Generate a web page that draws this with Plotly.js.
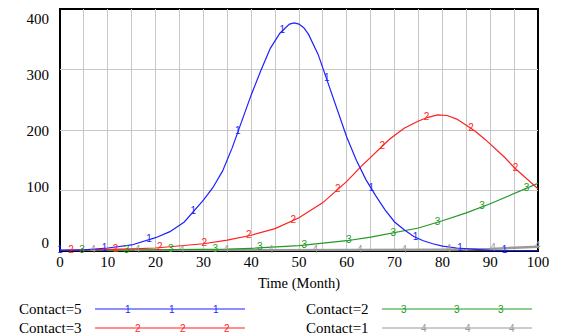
<!DOCTYPE html>
<html><head><meta charset="utf-8">
<script src="https://cdn.plot.ly/plotly-3.0.1.min.js"></script>
<style>html,body{margin:0;padding:0;background:#fff;}#chart{width:561px;height:336px;}</style>
</head><body><div id="chart"></div>
<script>
// ---- data ----
const seriesNames = ["Contact=5", "Contact=3", "Contact=2", "Contact=1"];
const markerLabels = ["1", "2", "3", "4"];
const seriesColors = ["#1f1fff", "#ff1f1f", "#229922", "#999999"];

const t5 = [0,5,10,15,20,23,26,28,30,32,34,36,38,40,42,44,46,47,48,49,50,51,52,54,56,58,60,62,64,66,68,70,72,74,76,78,80,83,86,90,95,100];
const v5 = [1,2,5,10,22,32,48,66,84,105,132,170,215,258,298,335,360,368,375,377,375,369,358,325,280,235,188,150,118,92,68,48,35,24,17,12,8,5,3,1,0.5,0.3];

const t3 = [0,5,10,15,20,25,30,35,40,45,50,55,58,60,63,66,69,72,75,77,79,81,83,85,87,89,91,93,95,97,100];
const v3 = [1,1.5,2.5,3.5,5,8,12,18,26,37,55,80,101,115,140,162,185,203,215,221,225,224,218,208,197,184,170,155,138,124,103];

const t2 = [0,10,20,30,35,40,45,50,55,60,65,70,75,80,85,90,95,100];
const v2 = [0.5,1,1.5,2.5,3,4.5,6.5,9,13,17,23,30,38,50,63,78,95,112];

const t1 = [0,20,40,60,70,80,90,95,100];
const v1 = [0.3,0.5,0.7,1,1.5,2,3.5,5,7];

const xTickVals = [0,10,20,30,40,50,60,70,80,90,100];
const yTickVals = [0,100,200,300,400];
const xTitle = "Time (Month)";

// ---- layout helpers ----
const W = 561, H = 336, ML = 60, MR = 23, MT = 9, MB = 85;
const PW = W - ML - MR, PH = H - MT - MB;
const px = x => (x - ML) / PW;
const py = y => (H - MB - y) / PH;

const ts = [t5, t3, t2, t1], vs = [v5, v3, v2, v1];
const markerStart = [0, 2.3, 4.6, 6.9], markerStep = 9.3;
function interp(t, v, x) {
  for (let i = 0; i < t.length - 1; i++) {
    if (x >= t[i] && x <= t[i+1]) return v[i] + (v[i+1]-v[i]) * (x - t[i]) / (t[i+1]-t[i]);
  }
  return v[v.length-1];
}

const traces = [];
const order = [3, 2, 1, 0];
order.forEach(i => {
  traces.push({x: ts[i], y: vs[i], type: 'scatter', mode: 'lines', showlegend: false,
    line: {color: seriesColors[i], width: i === 3 ? 2.5 : 1.2}, hoverinfo: 'skip'});
});
order.forEach(i => {
  const mx = [], my = [], mt = [];
  for (let x = markerStart[i]; x <= 100.01; x += markerStep) {
    mx.push(x); my.push(interp(ts[i], vs[i], x)); mt.push(markerLabels[i]);
  }
  traces.push({x: mx, y: my, text: mt, type: 'scatter', mode: 'text', showlegend: false,
    cliponaxis: false, textposition: 'middle center',
    textfont: {family: 'Liberation Sans, Arial', size: 10, color: seriesColors[i]}, hoverinfo: 'skip'});
});
// dummy trace to carry label axis
traces.push({x: [0], y: [0], yaxis: 'y2', mode: 'none', type: 'scatter', showlegend: false, hoverinfo: 'skip'});

// legend (custom)
const legendRowY = [309, 328, 309, 328];
const legendTextX = [17, 17, 304, 304];
const legendLineX = [[95, 245], [95, 245], [382, 532], [382, 532]];
const legendMarkX = [[128,172,216],[138,183,227],[404,457,501],[424,468,512]];
const shapes = [{type: 'rect', xref: 'paper', yref: 'paper', x0: 0, x1: 1, y0: 0, y1: 1,
  line: {color: '#000', width: 2}, layer: 'between'}];
const annotations = [];
for (let i = 0; i < 4; i++) {
  shapes.push({type: 'line', xref: 'paper', yref: 'paper', x0: px(legendLineX[i][0]), x1: px(legendLineX[i][1]),
    y0: py(legendRowY[i]), y1: py(legendRowY[i]), line: {color: seriesColors[i], width: 1.2}});
  annotations.push({xref: 'paper', yref: 'paper', x: px(legendTextX[i]), y: py(legendRowY[i]),
    xanchor: 'left', yanchor: 'middle', showarrow: false, text: seriesNames[i],
    font: {family: 'Liberation Serif, Times New Roman', size: 15, color: '#000'}});
  legendMarkX[i].forEach(mx => annotations.push({xref: 'paper', yref: 'paper', x: px(mx), y: py(legendRowY[i]),
    xanchor: 'center', yanchor: 'middle', showarrow: false, text: markerLabels[i],
    font: {family: 'Liberation Sans, Arial', size: 10, color: seriesColors[i]}}));
}

const serif = {family: 'Liberation Serif, Times New Roman', size: 15, color: '#000'};
const layout = {
  width: W, height: H,
  margin: {l: ML, r: MR, t: MT, b: MB},
  paper_bgcolor: '#fff', plot_bgcolor: '#fff',
  showlegend: false,
  xaxis: {range: [0, 100], tickvals: xTickVals, ticks: '', showgrid: true, gridcolor: '#c8c8c8', gridwidth: 1,
    minor: {dtick: 5, tick0: 0, showgrid: true, gridcolor: '#c8c8c8', gridwidth: 1},
    zeroline: false, showline: false, tickfont: serif,
    title: {text: xTitle, font: {family: 'Liberation Serif, Times New Roman', size: 14.5, color: '#000'}, standoff: 8}},
  yaxis: {range: [0, 400], tickvals: yTickVals, showticklabels: false, ticks: '', showgrid: true,
    gridcolor: '#c8c8c8', gridwidth: 1, zeroline: false, showline: false},
  yaxis2: {overlaying: 'y', side: 'left', range: [-14.3, 417.9], tickvals: yTickVals, ticks: '',
    showgrid: false, zeroline: false, showline: false, tickfont: serif, ticklabelstandoff: 10},
  shapes: shapes,
  annotations: annotations
};
Plotly.newPlot('chart', traces, layout, {staticPlot: true, displayModeBar: false});
</script></body></html>
